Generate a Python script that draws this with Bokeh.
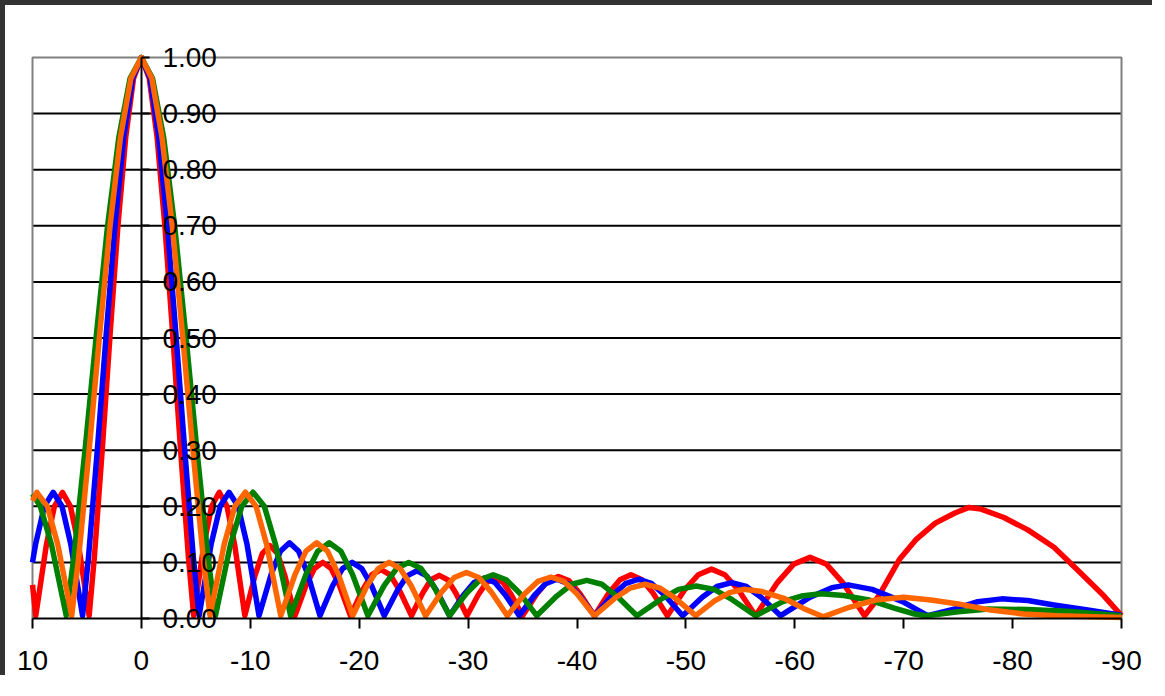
from bokeh.plotting import figure
from bokeh.models import Range1d, LinearAxis, FixedTicker
from bokeh.embed import file_html
from bokeh.resources import INLINE

# ---- data ----
x_ticks = [10, 0, -10, -20, -30, -40, -50, -60, -70, -80, -90]
x_tick_labels = ["10", "0", "-10", "-20", "-30", "-40", "-50", "-60", "-70", "-80", "-90"]
y_ticks = [0.0, 0.1, 0.2, 0.3, 0.4, 0.5, 0.6, 0.7, 0.8, 0.9, 1.0]
y_tick_labels = ["0.00", "0.10", "0.20", "0.30", "0.40", "0.50", "0.60", "0.70", "0.80", "0.90", "1.00"]
x_min, x_max = -90, 10
y_min, y_max = 0.0, 1.0

red_x = [10, 9.7, 8.72, 7.99, 7.25, 6.52, 5.78, 4.8,
         4.32, 3.6, 2.88, 2.16, 1.44, 0.72, 0, -0.72, -1.44, -2.16, -2.88, -3.6, -4.32,
         -4.8, -5.74, -6.45, -7.15, -7.86, -8.56,
         -9.5, -10.42, -11.11, -11.8, -12.49, -13.18,
         -14.1, -15.12, -15.89, -16.65, -17.42, -18.18,
         -19.2, -20.32, -21.16, -22.0, -22.84, -23.68,
         -24.8, -25.82, -26.59, -27.35, -28.12, -28.88,
         -29.9, -30.92, -31.69, -32.45, -33.22, -33.98,
         -35.0, -36.32, -37.31, -38.3, -39.29, -40.28,
         -41.6, -42.94, -43.95, -44.95, -45.96, -46.96,
         -48.3, -49.92, -51.14, -52.35, -53.57, -54.78,
         -56.4, -58.4, -59.9, -61.4, -62.9, -64.4,
         -66.4, -67.2, -68.0, -69.6, -71.1, -72.9, -74.7, -76.0, -77.1, -79.2,
         -81.4, -83.8, -86.2, -88.4, -90]
red_y = [0.06, 0.005, 0.132, 0.200, 0.225, 0.200, 0.132, 0.005,
         0.109, 0.300, 0.505, 0.699, 0.858, 0.963, 1.0, 0.963, 0.858, 0.699, 0.505, 0.300, 0.109,
         0.005, 0.132, 0.200, 0.225, 0.200, 0.132,
         0.005, 0.076, 0.116, 0.130, 0.116, 0.076,
         0.005, 0.059, 0.089, 0.100, 0.089, 0.059,
         0.005, 0.051, 0.078, 0.087, 0.078, 0.051,
         0.005, 0.045, 0.069, 0.077, 0.069, 0.045,
         0.005, 0.042, 0.064, 0.072, 0.064, 0.042,
         0.005, 0.044, 0.067, 0.075, 0.067, 0.044,
         0.005, 0.046, 0.069, 0.078, 0.069, 0.046,
         0.005, 0.052, 0.078, 0.088, 0.078, 0.052,
         0.005, 0.064, 0.097, 0.109, 0.097, 0.064,
         0.005, 0.025, 0.05, 0.105, 0.14, 0.17, 0.188, 0.198, 0.195, 0.18,
         0.158, 0.127, 0.082, 0.04, 0.005]

blue_x = [10, 9.72, 8.91, 8.1, 7.29, 6.48, 5.4,
          4.86, 4.05, 3.24, 2.43, 1.62, 0.81, 0, -0.8, -1.59, -2.39, -3.18, -3.98, -4.77,
          -5.3, -6.4, -7.23, -8.05, -8.88, -9.7,
          -10.8, -11.92, -12.76, -13.6, -14.44, -15.28,
          -16.4, -17.58, -18.47, -19.35, -20.24, -21.12,
          -22.3, -23.5, -24.4, -25.3, -26.2, -27.1,
          -28.3, -29.58, -30.54, -31.5, -32.46, -33.42,
          -34.7, -36.08, -37.12, -38.15, -39.19, -40.22,
          -41.6, -43.22, -44.44, -45.65, -46.87, -48.08,
          -49.7, -51.5, -52.85, -54.2, -55.55, -56.9,
          -58.7, -61.4, -63.4, -64.9, -67.1, -69.9,
          -72.2, -74.7, -76.8, -79.0, -81.4, -83.8, -86.9, -90]
blue_y = [0.10, 0.132, 0.200, 0.225, 0.200, 0.132, 0.005,
          0.109, 0.300, 0.505, 0.699, 0.858, 0.963, 1.0, 0.963, 0.858, 0.699, 0.505, 0.300, 0.109,
          0.005, 0.132, 0.200, 0.225, 0.200, 0.132,
          0.005, 0.079, 0.120, 0.135, 0.120, 0.079,
          0.005, 0.059, 0.089, 0.100, 0.089, 0.059,
          0.005, 0.050, 0.076, 0.085, 0.076, 0.050,
          0.005, 0.042, 0.064, 0.072, 0.064, 0.042,
          0.005, 0.041, 0.062, 0.070, 0.062, 0.041,
          0.005, 0.041, 0.062, 0.070, 0.062, 0.041,
          0.005, 0.038, 0.057, 0.064, 0.057, 0.038,
          0.005, 0.038, 0.055, 0.060, 0.052, 0.030,
          0.005, 0.017, 0.030, 0.035, 0.032, 0.024, 0.015, 0.006]

green_x = [10, 9.28, 8.26, 6.9,
           6.21, 5.18, 4.14, 3.11, 2.07, 1.04, 0, -1.02, -2.04, -3.06, -4.08, -5.1, -6.12,
           -6.8, -8.18, -9.22, -10.25, -11.29, -12.32,
           -13.7, -15.12, -16.19, -17.25, -18.32, -19.38,
           -20.8, -22.3, -23.43, -24.55, -25.68, -26.8,
           -28.3, -29.9, -31.1, -32.3, -33.5, -34.7,
           -36.3, -38.14, -39.52, -40.9, -42.28, -43.66,
           -45.5, -47.68, -49.32, -50.95, -52.59, -54.22,
           -56.4, -58.9, -60.6, -62.4, -64.5, -66.8, -69.2, -71.0,
           -72.1, -75.0, -77.8, -81.4, -85.0, -90]
green_y = [0.222, 0.200, 0.132, 0.005,
           0.109, 0.300, 0.505, 0.699, 0.858, 0.963, 1.0, 0.963, 0.858, 0.699, 0.505, 0.300, 0.109,
           0.005, 0.132, 0.200, 0.225, 0.200, 0.132,
           0.005, 0.079, 0.120, 0.135, 0.120, 0.079,
           0.005, 0.059, 0.089, 0.100, 0.089, 0.059,
           0.005, 0.046, 0.069, 0.078, 0.069, 0.046,
           0.005, 0.040, 0.061, 0.068, 0.061, 0.040,
           0.005, 0.034, 0.052, 0.058, 0.052, 0.034,
           0.005, 0.030, 0.040, 0.044, 0.041, 0.033, 0.018, 0.008,
           0.005, 0.012, 0.017, 0.016, 0.013, 0.005]

orange_x = [10, 9.6, 8.64, 7.68, 6.4,
            5.76, 4.8, 3.84, 2.88, 1.92, 0.96, 0, -0.95, -1.89, -2.84, -3.78, -4.73, -5.67,
            -6.3, -7.6, -8.58, -9.55, -10.53, -11.5,
            -12.8, -14.12, -15.11, -16.1, -17.09, -18.08,
            -19.4, -20.74, -21.75, -22.75, -23.76, -24.76,
            -26.1, -27.6, -28.73, -29.85, -30.98, -32.1,
            -33.6, -35.2, -36.4, -37.6, -38.8, -40.0,
            -41.6, -43.46, -44.86, -46.25, -47.65, -49.04,
            -50.9, -52.6, -54.0, -55.3, -57.0, -59.0, -60.8,
            -62.6, -65.0, -67.4, -70.0, -72.5, -75.0, -78.0, -81.0, -84.0, -90]
orange_y = [0.21, 0.225, 0.200, 0.132, 0.005,
            0.109, 0.300, 0.505, 0.699, 0.858, 0.963, 1.0, 0.963, 0.858, 0.699, 0.505, 0.300, 0.109,
            0.005, 0.132, 0.200, 0.225, 0.200, 0.132,
            0.005, 0.079, 0.120, 0.135, 0.120, 0.079,
            0.005, 0.059, 0.089, 0.100, 0.089, 0.059,
            0.005, 0.048, 0.073, 0.082, 0.073, 0.048,
            0.005, 0.044, 0.066, 0.074, 0.066, 0.044,
            0.005, 0.036, 0.054, 0.061, 0.054, 0.036,
            0.005, 0.031, 0.046, 0.052, 0.048, 0.036, 0.018,
            0.003, 0.020, 0.033, 0.038, 0.033, 0.026, 0.015, 0.008, 0.005, 0.002]

series = [
    (red_x, red_y, "#FF0000"),
    (blue_x, blue_y, "#0000FF"),
    (green_x, green_y, "#008000"),
    (orange_x, orange_y, "#FF6600"),
]

FONT = "Liberation Sans"
W, H = 1152, 675
# plot box inside the canvas (pixels)
box_l, box_r, box_t, box_b = 27, 1116, 52, 613
ppx = (box_r - box_l) / (x_max - x_min)
ppy = (box_b - box_t) / (y_max - y_min)
xr = Range1d(x_max + box_l / ppx, x_min - (W - box_r) / ppx)
yr = Range1d(y_min - (H - box_b) / ppy, y_max + box_t / ppy)

p = figure(width=W, height=H, x_range=xr, y_range=yr,
           output_backend="svg", toolbar_location=None,
           x_axis_location=None, y_axis_location=None,
           min_border=0, min_border_left=0, min_border_right=0,
           min_border_top=0, min_border_bottom=0,
           background_fill_color="white", border_fill_color="white",
           styles={"border-left": "5px solid #333333", "border-top": "5px solid #333333"})
p.outline_line_color = None
p.grid.visible = False

# horizontal gridlines, limited to the plot box
grid_y = y_ticks[1:-1]
p.segment(x0=[x_max] * len(grid_y), y0=grid_y, x1=[x_min] * len(grid_y), y1=grid_y,
          line_color="black", line_width=2)

# gray plot-area border (left, top, right)
p.line([x_max, x_max, x_min, x_min], [y_min, y_max, y_max, y_min],
       line_color="#808080", line_width=2)

for xs, ys, c in series:
    p.line(xs, ys, line_color=c, line_width=5.5, line_join="round")

xa = LinearAxis(fixed_location=0, ticker=FixedTicker(ticks=x_ticks), bounds=(x_min, x_max))
xa.major_label_overrides = {t: s for t, s in zip(x_ticks, x_tick_labels)}
xa.axis_line_color = "black"
xa.axis_line_width = 2
xa.major_tick_line_color = "black"
xa.major_tick_line_width = 2
xa.major_tick_out = 10
xa.major_tick_in = 0
xa.minor_tick_line_color = None
xa.major_label_text_font = FONT
xa.major_label_text_font_size = "28px"
xa.major_label_text_color = "black"
xa.major_label_standoff = 22
p.add_layout(xa, "below")

ya = LinearAxis(fixed_location=0, ticker=FixedTicker(ticks=y_ticks), bounds=(y_min, y_max))
ya.major_label_overrides = {t: s for t, s in zip(y_ticks, y_tick_labels)}
ya.axis_line_color = "black"
ya.axis_line_width = 2
ya.major_tick_line_color = "black"
ya.major_tick_line_width = 2
ya.major_tick_out = 8
ya.major_tick_in = 0
ya.minor_tick_line_color = None
ya.major_label_text_font = FONT
ya.major_label_text_font_size = "28px"
ya.major_label_text_color = "black"
ya.major_label_standoff = 13
p.add_layout(ya, "right")

open("out.html", "w").write(file_html(p, INLINE))
